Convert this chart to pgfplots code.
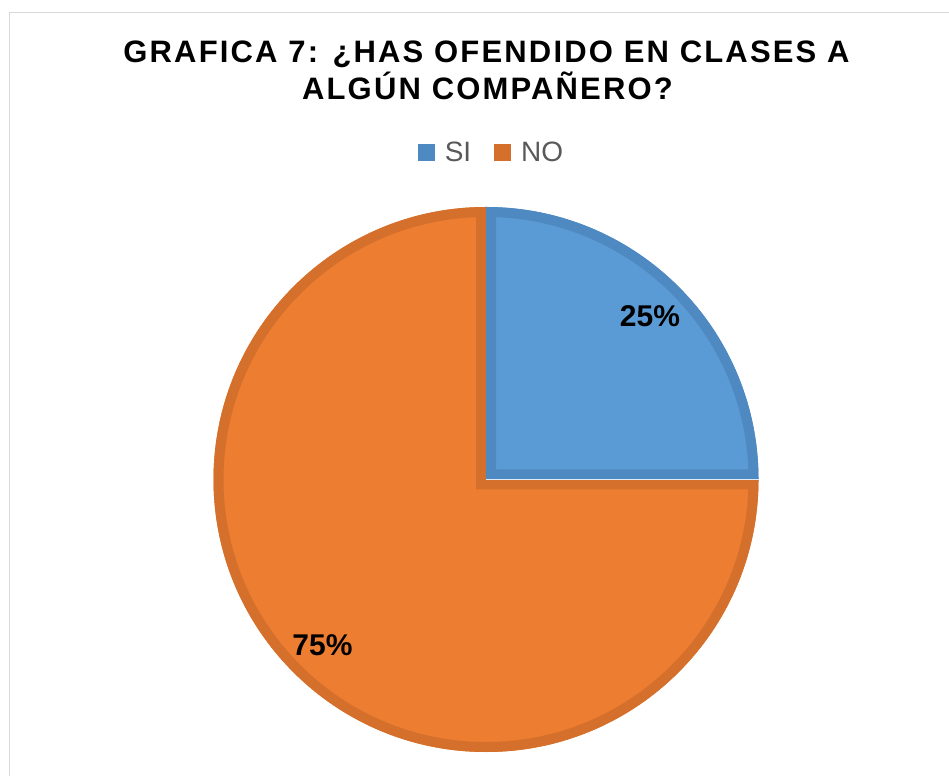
\documentclass[border=0pt]{standalone}
\usepackage{pgfplots}
\pgfplotsset{compat=1.18}
\usepackage{pgfplotstable}
\usepackage{fontspec}
\setmainfont{Liberation Sans}
\definecolor{siblue}{HTML}{5B9BD5}
\definecolor{sibluedark}{HTML}{4F89C1}
\definecolor{noorange}{HTML}{ED7D31}
\definecolor{noorangedark}{HTML}{D4702C}
\definecolor{legtext}{HTML}{595959}
\definecolor{framegray}{HTML}{D9D9D9}
\pgfplotstableread{
label value
SI 25
NO 75
}\piedata
\begin{document}
\begin{tikzpicture}[x=1pt,y=1pt]
\useasboundingbox (0,0) rectangle (949,776);
\pgfplotstablegetelem{0}{value}\of\piedata
\pgfmathsetmacro\vsi{\pgfplotsretval}
\pgfplotstablegetelem{1}{value}\of\piedata
\pgfmathsetmacro\vno{\pgfplotsretval}
\pgfmathsetmacro\total{\vsi+\vno}
\pgfmathsetmacro\asiend{90-\vsi/\total*360}
\pgfmathsetmacro\anoend{\asiend-\vno/\total*360}
\pgfmathtruncatemacro\psi{round(\vsi/\total*100)}
\pgfmathtruncatemacro\pno{round(\vno/\total*100)}
\def\cx{486}\def\cy{296.5}\def\R{272.5}
\begin{axis}[at={(0,0)}, anchor=south west, width=949pt, height=776pt,
  scale only axis, xmin=0, xmax=949, ymin=0, ymax=776, hide axis, clip=false,
  legend columns=2,
  legend style={at={(axis cs:491.5,623.5)}, anchor=center, draw=none, fill=none,
    font=\fontsize{28}{30}\selectfont, text=legtext,
    /tikz/every even column/.append style={column sep=21pt},
    inner sep=0pt, cells={anchor=west, inner sep=0pt}},
  legend image code/.code={\fill[#1] (0pt,-8.5pt) rectangle (17pt,8.5pt); \path (25pt,0pt);},
]
\addlegendimage{fill=sibluedark, draw=none}
\addlegendentry{SI}
\addlegendimage{fill=noorangedark, draw=none}
\addlegendentry{NO}
% NO slice
\fill[noorange] (axis cs:\cx,\cy) -- ++(\asiend:\R) arc[start angle=\asiend, end angle=\anoend, radius=\R] -- cycle;
\begin{scope}
\clip (axis cs:\cx,\cy) -- ++(\asiend:\R) arc[start angle=\asiend, end angle=\anoend, radius=\R] -- cycle;
\draw[noorangedark, line width=20pt, line join=miter] (axis cs:\cx,\cy) -- ++(\asiend:\R) arc[start angle=\asiend, end angle=\anoend, radius=\R] -- cycle;
\end{scope}
% SI slice
\fill[siblue] (axis cs:\cx,\cy) -- ++(90:\R) arc[start angle=90, end angle=\asiend, radius=\R] -- cycle;
\begin{scope}
\clip (axis cs:\cx,\cy) -- ++(90:\R) arc[start angle=90, end angle=\asiend, radius=\R] -- cycle;
\draw[sibluedark, line width=20pt, line join=miter] (axis cs:\cx,\cy) -- ++(90:\R) arc[start angle=90, end angle=\asiend, radius=\R] -- cycle;
\end{scope}
\draw[white!80!siblue, line width=1pt] (axis cs:\cx,\cy) -- ++(\asiend:\R);
% data labels
\node[font=\fontsize{30}{32}\selectfont\bfseries] at (axis cs:650,460) {\psi\%};
\node[font=\fontsize{30}{32}\selectfont\bfseries] at (axis cs:322.5,131) {\pno\%};
% title
\node[anchor=base, font=\fontsize{31}{36}\selectfont\bfseries\addfontfeature{LetterSpace=7}] at (axis cs:486.5,713) {GRAFICA 7: ¿HAS OFENDIDO EN CLASES A};
\node[anchor=base, font=\fontsize{31}{36}\selectfont\bfseries\addfontfeature{LetterSpace=7}] at (axis cs:487.5,676) {ALGÚN COMPAÑERO?};
% frame
\draw[framegray, line width=1.5pt] (axis cs:9.5,0) -- (axis cs:9.5,763.5) -- (axis cs:949,763.5);
\end{axis}
\end{tikzpicture}
\end{document}
